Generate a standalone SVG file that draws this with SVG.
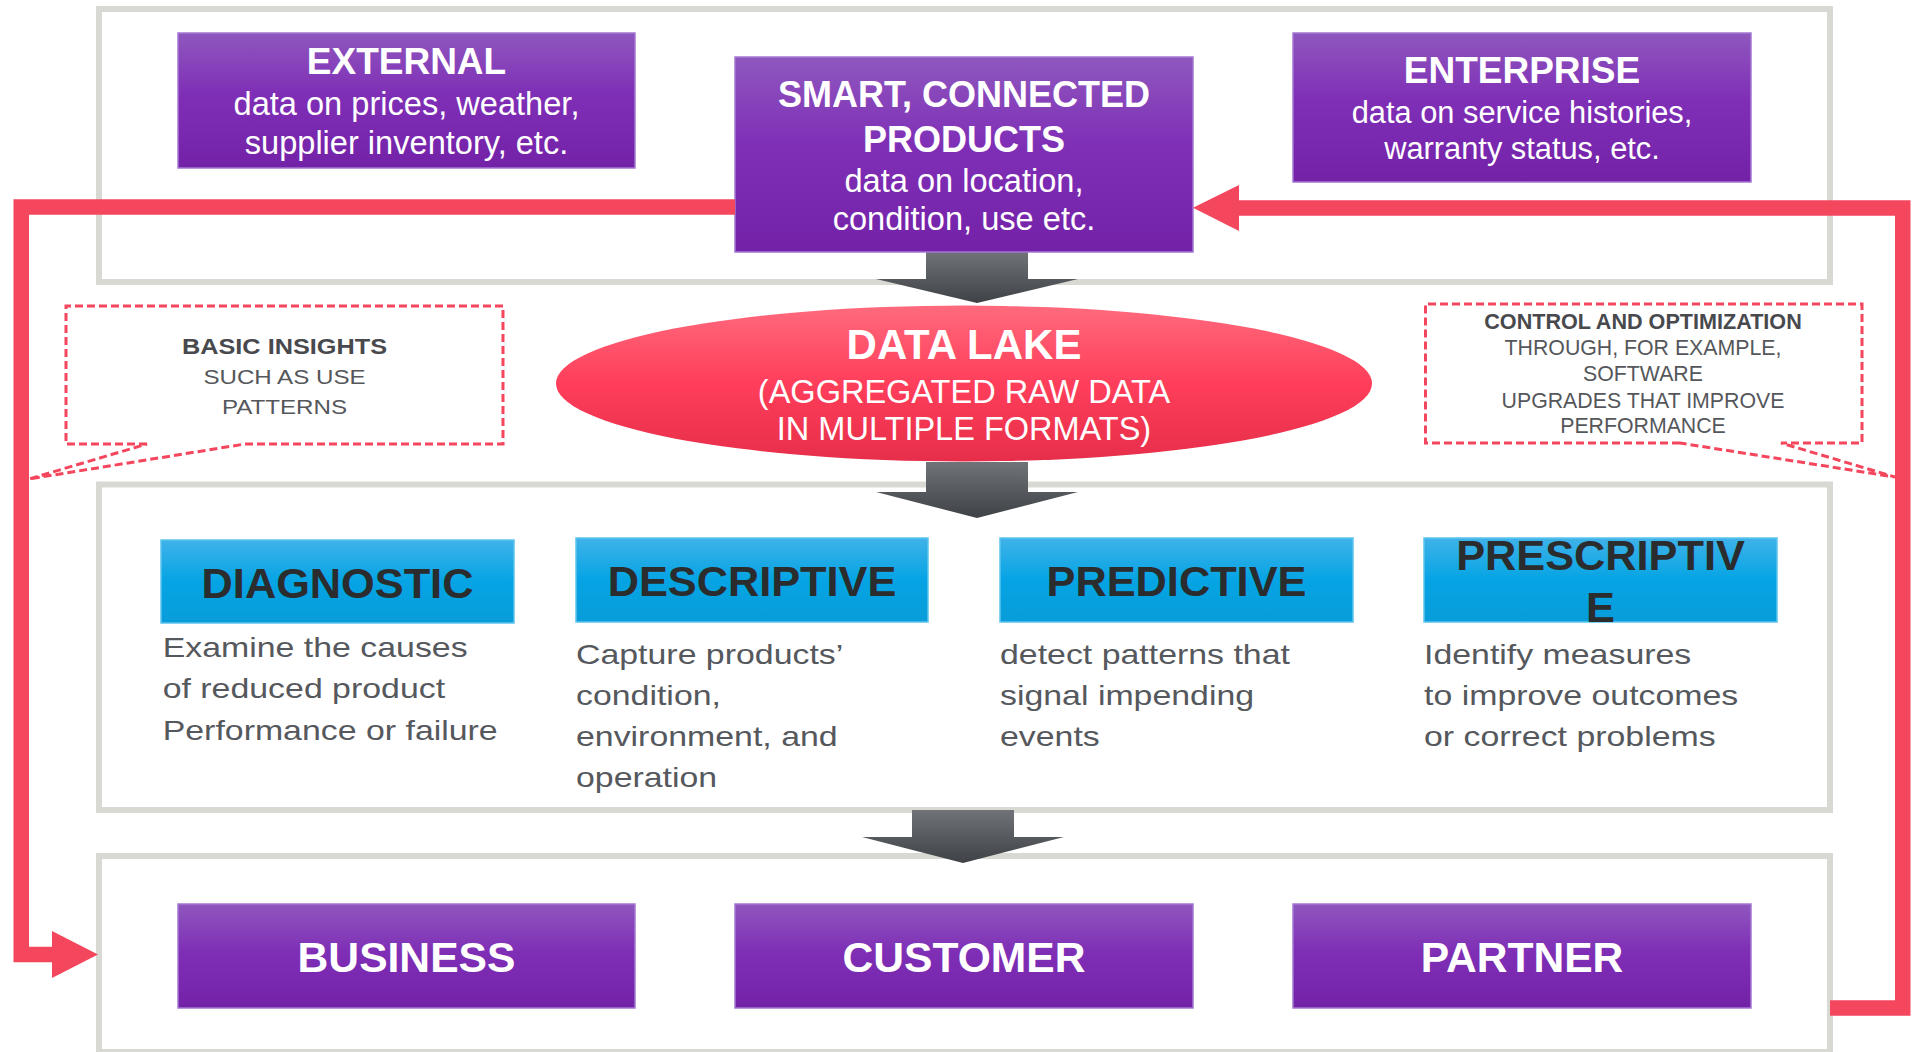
<svg xmlns="http://www.w3.org/2000/svg" width="1917" height="1052" viewBox="0 0 1917 1052">
<defs>
<linearGradient id="gPurple" x1="0" y1="0" x2="0" y2="1">
<stop offset="0" stop-color="#8f57be"/>
<stop offset="0.45" stop-color="#7f2fb6"/>
<stop offset="1" stop-color="#7322a8"/>
</linearGradient>
<linearGradient id="gBlue" x1="0" y1="0" x2="0" y2="1">
<stop offset="0" stop-color="#3fb2e9"/>
<stop offset="0.5" stop-color="#05a4e4"/>
<stop offset="1" stop-color="#089cd9"/>
</linearGradient>
<linearGradient id="gLake" x1="0" y1="0" x2="0" y2="1">
<stop offset="0" stop-color="#ff6a7d"/>
<stop offset="0.5" stop-color="#ff3e5a"/>
<stop offset="1" stop-color="#e62e4a"/>
</linearGradient>
<linearGradient id="gGrey" x1="0" y1="0" x2="0" y2="1">
<stop offset="0" stop-color="#707377"/>
<stop offset="1" stop-color="#3e4145"/>
</linearGradient>
<style>
.frame{fill:#ffffff;stroke:#d9d9d4;stroke-width:6}
.pbox{fill:url(#gPurple);stroke:#a477d2;stroke-width:1.5}
.bbox{fill:url(#gBlue);stroke:#5cc3ee;stroke-width:1.5}
.garrow{fill:url(#gGrey)}
.t{font-family:"Liberation Sans",Arial,Helvetica,sans-serif}
.wt{fill:#ffffff;text-anchor:middle}
.bold{font-weight:bold}
.btitle{fill:#2a2c2d;font-weight:bold;font-size:43.3px;text-anchor:middle}
.body{fill:#55585c;font-size:28px}
.ctext{fill:#55575b;text-anchor:middle}
.cbold{fill:#48494d;font-weight:bold}
.red{fill:none;stroke:#f4475e;stroke-width:15.5;stroke-linejoin:miter;stroke-linecap:butt}
.redhead{fill:#f4475e}
.dash{fill:none;stroke:#f4475e;stroke-width:3;stroke-dasharray:8 4}
</style>
</defs>
<rect width="1917" height="1052" fill="#ffffff"/>

<g id="frames">
<rect class="frame" x="99" y="9" width="1731" height="273"/>
<rect class="frame" x="99" y="484.5" width="1731" height="325.5"/>
<rect class="frame" x="99" y="856" width="1731" height="196"/>
</g>

<g id="flow-arrows">
<path class="garrow" d="M926,252 L1028,252 L1028,279 L1078,279 L977,303 L876,279 L926,279 Z"/>
<path class="garrow" d="M926,462 L1028,462 L1028,492 L1078,492 L977,518 L876,492 L926,492 Z"/>
<path class="garrow" d="M912,810 L1014,810 L1014,837 L1064,837 L963,863 L862,837 L912,837 Z"/>
</g>

<g id="external">
<rect class="pbox" x="178" y="33" width="457" height="135"/>
<text class="t wt bold" x="406.5" y="74" font-size="37">EXTERNAL</text>
<text class="t wt" x="406.5" y="115" font-size="32.6">data on prices, weather,</text>
<text class="t wt" x="406.5" y="154" font-size="32.6">supplier inventory, etc.</text>
</g>

<g id="smart-connected-products">
<rect class="pbox" x="735" y="57" width="458" height="195"/>
<text class="t wt bold" x="964" y="106.7" font-size="36">SMART, CONNECTED</text>
<text class="t wt bold" x="964" y="151.7" font-size="36">PRODUCTS</text>
<text class="t wt" x="964" y="191.7" font-size="32.6">data on location,</text>
<text class="t wt" x="964" y="230" font-size="32.6">condition, use etc.</text>
</g>

<g id="enterprise">
<rect class="pbox" x="1293" y="33" width="458" height="149"/>
<text class="t wt bold" x="1522" y="83.3" font-size="37">ENTERPRISE</text>
<text class="t wt" x="1522" y="122.7" font-size="30.8">data on service histories,</text>
<text class="t wt" x="1522" y="159.3" font-size="30.8">warranty status, etc.</text>
</g>

<g id="data-lake">
<ellipse cx="964" cy="383.5" rx="408" ry="78" fill="url(#gLake)"/>
<text class="t wt bold" x="964" y="359.3" font-size="42">DATA LAKE</text>
<text class="t wt" x="964" y="402.7" font-size="32.5">(AGGREGATED RAW DATA</text>
<text class="t wt" x="964" y="440" font-size="32.5">IN MULTIPLE FORMATS)</text>
</g>

<g id="callout-basic-insights">
<path class="dash" d="M147,444 L66,444 L66,306 L503,306 L503,444 L245,444 L29,479 Z"/>
<g transform="translate(284.5,0) scale(1.15,1)">
<text class="t ctext cbold" x="0" y="354" font-size="22">BASIC INSIGHTS</text>
<text class="t ctext" x="0" y="384" font-size="21">SUCH AS USE</text>
<text class="t ctext" x="0" y="414" font-size="21">PATTERNS</text>
</g>
</g>

<g id="callout-control-optimization">
<path class="dash" d="M1680,443 L1425.5,443 L1425.5,304 L1862,304 L1862,443 L1781,443 L1895,477 Z"/>
<text class="t ctext cbold" x="1643" y="329" font-size="21.6">CONTROL AND OPTIMIZATION</text>
<text class="t ctext" x="1643" y="355" font-size="21.3">THROUGH, FOR EXAMPLE,</text>
<text class="t ctext" x="1643" y="380.7" font-size="21.3">SOFTWARE</text>
<text class="t ctext" x="1643" y="408" font-size="21.3">UPGRADES THAT IMPROVE</text>
<text class="t ctext" x="1643" y="433.3" font-size="21.3">PERFORMANCE</text>
</g>

<g id="diagnostic">
<rect class="bbox" x="161" y="540" width="353" height="83"/>
<text class="t btitle" x="337.5" y="598.3">DIAGNOSTIC</text>
<g transform="translate(162.7,0) scale(1.21,1)">
<text class="t body" x="0" y="656.7">Examine the causes</text>
<text class="t body" x="0" y="698.3">of reduced product</text>
<text class="t body" x="0" y="740">Performance or failure</text>
</g>
</g>

<g id="descriptive">
<rect class="bbox" x="576" y="538" width="352" height="84"/>
<text class="t btitle" x="752" y="596">DESCRIPTIVE</text>
<g transform="translate(576,0) scale(1.21,1)">
<text class="t body" x="0" y="664">Capture products’</text>
<text class="t body" x="0" y="705">condition,</text>
<text class="t body" x="0" y="746.5">environment, and</text>
<text class="t body" x="0" y="787.5">operation</text>
</g>
</g>

<g id="predictive">
<rect class="bbox" x="1000" y="538" width="353" height="84"/>
<text class="t btitle" x="1176.5" y="596">PREDICTIVE</text>
<g transform="translate(1000,0) scale(1.21,1)">
<text class="t body" x="0" y="664">detect patterns that</text>
<text class="t body" x="0" y="705">signal impending</text>
<text class="t body" x="0" y="746.5">events</text>
</g>
</g>

<g id="prescriptive">
<rect class="bbox" x="1424" y="538" width="353" height="84"/>
<text class="t btitle" x="1600.5" y="570">PRESCRIPTIV</text>
<text class="t btitle" x="1600.5" y="621.7">E</text>
<g transform="translate(1424,0) scale(1.21,1)">
<text class="t body" x="0" y="664">Identify measures</text>
<text class="t body" x="0" y="705">to improve outcomes</text>
<text class="t body" x="0" y="746.5">or correct problems</text>
</g>
</g>

<g id="business">
<rect class="pbox" x="178" y="904" width="457" height="104"/>
<text class="t wt bold" x="406.5" y="971.7" font-size="42.6">BUSINESS</text>
</g>
<g id="customer">
<rect class="pbox" x="735" y="904" width="458" height="104"/>
<text class="t wt bold" x="964" y="971.7" font-size="42.6">CUSTOMER</text>
</g>
<g id="partner">
<rect class="pbox" x="1293" y="904" width="458" height="104"/>
<text class="t wt bold" x="1522" y="971.7" font-size="42.6">PARTNER</text>
</g>

<g id="connectors">
<polyline class="red" points="735,207 21.25,207 21.25,954.5 53,954.5"/>
<polygon class="redhead" points="52,931 98,954.5 52,978"/>
<polyline class="red" points="1830,1008 1902.75,1008 1902.75,208 1237,208"/>
<polygon class="redhead" points="1239,185 1193,207.7 1239,231"/>
</g>
</svg>
